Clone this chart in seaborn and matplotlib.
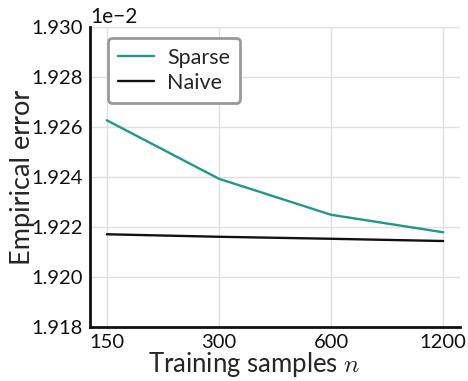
import matplotlib
matplotlib.use("Agg")
import matplotlib.pyplot as plt
import seaborn as sns
import pandas as pd

# Empirical error versus training set size
n_samples = [150, 300, 600, 1200]
sparse_err = [0.0192627, 0.0192393, 0.0192249, 0.0192179]
naive_err = [0.0192171, 0.0192161, 0.0192153, 0.0192144]
methods = ["Sparse", "Naive"]
palette = {"Sparse": "#22978b", "Naive": "#111111"}
y_ticks = [0.01918, 0.01920, 0.01922, 0.01924, 0.01926, 0.01928, 0.01930]

df = pd.DataFrame({
    "n": n_samples * 2,
    "err": sparse_err + naive_err,
    "method": [methods[0]] * len(n_samples) + [methods[1]] * len(n_samples),
})

sns.set_style("whitegrid")
plt.rcParams["font.family"] = ["Lato", "DejaVu Sans"]
plt.rcParams["mathtext.fontset"] = "cm"

fig = plt.figure(figsize=(4.68, 3.81), dpi=100)
ax = fig.add_axes([0.1923, 0.1417, 0.7907, 0.7873])

sns.lineplot(data=df, x="n", y="err", hue="method", hue_order=methods,
             palette=palette, linewidth=1.7, ax=ax)

ax.set_xscale("log", base=2)
ax.set_xticks(n_samples)
ax.set_xticklabels([str(v) for v in n_samples])
ax.minorticks_off()
ax.set_xlim(150 / 2 ** 0.15, 1200 * 2 ** 0.15)

ax.set_ylim(y_ticks[0], y_ticks[-1])
ax.set_yticks(y_ticks)
ax.ticklabel_format(axis="y", style="sci", scilimits=(0, 0), useMathText=False)
ax.yaxis.get_offset_text().set_fontsize(15)

ax.grid(True, color="#e0e0e0", linewidth=1.0)
for side in ["top", "right"]:
    ax.spines[side].set_visible(False)
for side in ["left", "bottom"]:
    ax.spines[side].set_color("#111111")
    ax.spines[side].set_linewidth(2.0)

ax.tick_params(axis="both", labelsize=14.5, length=3, width=1, color="#111111",
               colors="#111111", pad=2)
ax.set_xlabel(r"Training samples $n$", fontsize=18.5)
ax.set_ylabel("Empirical error", fontsize=19.5)
ax.xaxis.set_label_coords(0.443, -0.075, transform=ax.transAxes)
ax.xaxis.label.set_va("top")
ax.yaxis.set_label_coords(-0.148, 0.5, transform=ax.transAxes)

leg = ax.legend(loc="upper left", bbox_to_anchor=(0.02, 1.0), fontsize=15.5,
                frameon=True, fancybox=True, handlelength=1.7,
                handletextpad=0.6, borderpad=0.45, labelspacing=0.25)
leg.get_frame().set_edgecolor("#999999")
leg.get_frame().set_linewidth(2.0)
leg.get_frame().set_alpha(1.0)

fig.savefig("out.png", dpi=100)
